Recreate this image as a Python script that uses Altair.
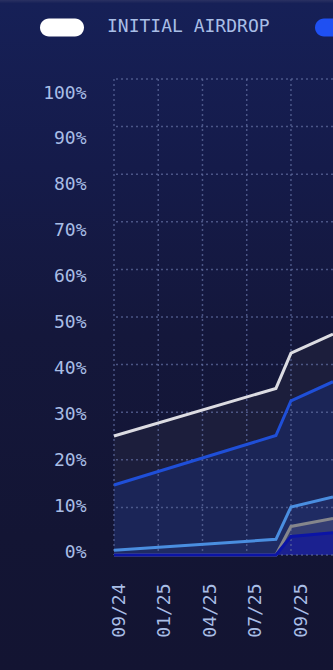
import json
import pandas as pd
import altair as alt

FONT = "DejaVu Sans Mono"
TEXT_COLOR = "#a9bee6"
GRID_COLOR = "#5e6a9c"

# axis ticks / labels
X_LABELS = ["09/24", "01/25", "04/25", "07/25", "09/25"]
X_TICKS = [0, 1, 2, 3, 4]          # time index, one step per axis label
X_MAX = 4.95                        # right edge of the visible window
Y_TICKS = [0, 10, 20, 30, 40, 50, 60, 70, 80, 90, 100]

# series (cumulative % unlocked)
X_POS = [0, 3.66, 4.0, 4.95]
SERIES = ["INITIAL AIRDROP", "SEASON 1", "SEASON 2", "SEASON 3", "SEASON 4"]
INITIAL_AIRDROP = [25.0, 35.0, 42.4, 46.4]
SEASON_1 = [14.7, 25.1, 32.4, 36.4]
SEASON_2 = [1.0, 3.3, 10.1, 12.2]
SEASON_3 = [0.0, 0.0, 6.0, 7.7]
SEASON_4 = [0.0, 0.0, 3.9, 4.7]
SERIES_VALUES = [INITIAL_AIRDROP, SEASON_1, SEASON_2, SEASON_3, SEASON_4]

LINE_COLORS = ["#dcdce2", "#1f4fd8", "#4a8ee0", "#85868c", "#0b14a6"]
FILL_COLORS = ["#1c1e3c", "#1b2557", "#1f2b63", "#343d72", "#1b2190"]
PILL_COLORS = ["#ffffff", "#1f50f2", "#4a8ee0", "#85868c", "#0b14a6"]

rows = []
for name, vals in zip(SERIES, SERIES_VALUES):
    for xv, v in zip(X_POS, vals):
        rows.append({"series": name, "x": xv, "value": v})
df = pd.DataFrame(rows)

x_enc = alt.X("x:Q", scale=alt.Scale(domain=[0, X_MAX], nice=False, zero=False), axis=None)
y_enc = alt.Y("value:Q", scale=alt.Scale(domain=[0, 100], nice=False), axis=None)

# background gradient
bg = alt.Chart(pd.DataFrame({"k": [0]})).mark_rect(
    color=alt.LinearGradient(
        gradient="linear",
        stops=[
            alt.GradientStop(color="#2a3162", offset=0),
            alt.GradientStop(color="#162057", offset=0.005),
            alt.GradientStop(color="#151b4a", offset=0.25),
            alt.GradientStop(color="#14173b", offset=0.5),
            alt.GradientStop(color="#131534", offset=0.8),
            alt.GradientStop(color="#131432", offset=1),
        ],
        x1=0, x2=0, y1=0, y2=1,
    )
).encode(x=alt.value(-114), x2=alt.value(219), y=alt.value(-79), y2=alt.value(591))

areas = []
for name, fc in zip(SERIES, FILL_COLORS):
    areas.append(
        alt.Chart(df).transform_filter(alt.datum.series == name)
        .mark_area(color=fc, opacity=1)
        .encode(x=x_enc, y=y_enc)
    )

grid_h = alt.Chart(pd.DataFrame({"value": Y_TICKS})).mark_rule(
    color=GRID_COLOR, strokeWidth=1.5, strokeDash=[2, 3], opacity=0.75
).encode(y=y_enc)
grid_v = alt.Chart(pd.DataFrame({"x": X_TICKS})).mark_rule(
    color=GRID_COLOR, strokeWidth=1.5, strokeDash=[2, 3], opacity=0.75
).encode(x=x_enc)

lines = []
for name, lc in zip(SERIES, LINE_COLORS):
    lines.append(
        alt.Chart(df).transform_filter(alt.datum.series == name)
        .mark_line(color=lc, strokeWidth=3)
        .encode(x=x_enc, y=y_enc)
    )

PILL = "M-0.59,-0.41L0.59,-0.41A0.41,0.41,0,0,1,0.59,0.41L-0.59,0.41A0.41,0.41,0,0,1,-0.59,-0.41Z"
legend_layer = alt.Chart(df).mark_point(filled=True, size=0).encode(
    x=x_enc,
    y=y_enc,
    color=alt.Color(
        "series:N",
        title=None,
        scale=alt.Scale(domain=SERIES, range=PILL_COLORS),
        legend=alt.Legend(
            orient="none", legendX=-74, legendY=-74, direction="horizontal", columns=5,
            symbolType=PILL, symbolSize=1936, symbolStrokeWidth=0, symbolOpacity=1,
            labelFont=FONT, labelFontSize=18, labelColor=TEXT_COLOR, labelOffset=23,
            columnPadding=45, labelLimit=400, padding=0, zindex=1,
        ),
    ),
)

inner = alt.layer(*areas, grid_h, grid_v, *lines, legend_layer)

x_label_expr = json.dumps(X_LABELS) + "[datum.value]"
x_labels = alt.Chart(pd.DataFrame({"lx": X_TICKS})).mark_point(size=0, opacity=0).encode(
    x=alt.X(
        "lx:Q", title=None,
        scale=alt.Scale(domain=[0, 4], range=[5, 187], nice=False, zero=False),
        axis=alt.Axis(
            values=X_TICKS, labelExpr=x_label_expr, orient="bottom", labelAngle=270,
            labelAlign="right", labelBaseline="middle", labelPadding=28, ticks=False,
            tickSize=0, domain=False, grid=False, labelFont=FONT, labelFontSize=18,
            labelColor=TEXT_COLOR, labelFlush=False, labelOverlap=False, zindex=1,
        ),
    )
)
y_labels = alt.Chart(pd.DataFrame({"ly": Y_TICKS})).mark_point(size=0, opacity=0).encode(
    y=alt.Y(
        "ly:Q", title=None,
        scale=alt.Scale(domain=[0, 100], range=[473, 14], nice=False),
        axis=alt.Axis(
            values=Y_TICKS, labelExpr="datum.value + '%'", orient="left",
            labelAlign="right", labelBaseline="middle", labelPadding=28, ticks=False,
            tickSize=0, domain=False, grid=False, labelFont=FONT, labelFontSize=18,
            labelColor=TEXT_COLOR, labelFlush=False, labelOverlap=False, zindex=1,
        ),
    )
)

chart = (
    alt.layer(bg, inner, x_labels, y_labels)
    .resolve_scale(x="independent", y="independent")
    .properties(
        width=219, height=476,
        padding={"left": 114, "top": 79, "right": 0, "bottom": 115},
        autosize=alt.AutoSizeParams(type="none"),
        background="#131432",
    )
    .configure_view(strokeWidth=0)
)

chart.save("out.html", embed_options={"renderer": "svg", "actions": False})
